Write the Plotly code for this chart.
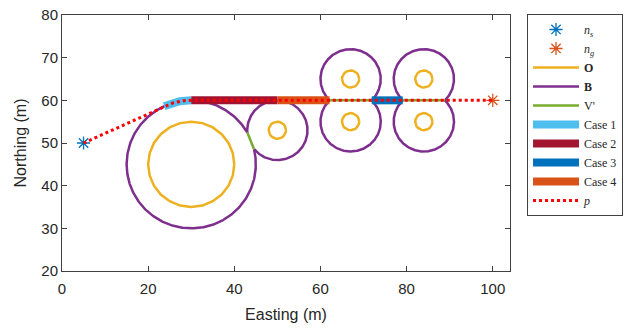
import numpy as np
import plotly.graph_objects as go

# ---------------- data ----------------
start_pt = [5, 50]
goal_pt = [100, 60]

# obstacles O (centre x, centre y, radius)
obs_x = [30, 50, 67, 67, 84, 84]
obs_y = [45, 53, 65, 55, 65, 55]
obs_r = [10, 2, 2, 2, 2, 2]
# buffer circles B (same centres)
buf_r = [15, 7, 7, 7, 7, 7]

# case segments along northing = 60
path_y = 60
case1_arc_deg = [114.8, 90]      # arc on buffer circle 0
case2_x = [30, 50]
case3_x = [71.9, 79.1]
case4_x = [50, 62.1]

x_ticks = [0, 20, 40, 60, 80, 100]
y_ticks = [20, 30, 40, 50, 60, 70, 80]

C_BLUE = "#0072BD"
C_ORANGE = "#D95319"
C_YELLOW = "#EDB120"
C_PURPLE = "#7E2F8E"
C_GREEN = "#77AC30"
C_CYAN = "#4DBEEE"
C_DRED = "#A2142F"

fig = go.Figure()

# n_s, n_g
fig.add_trace(go.Scatter(x=[start_pt[0]], y=[start_pt[1]], mode="markers",
                         marker=dict(symbol="asterisk-open", size=11, color=C_BLUE,
                                     line=dict(color=C_BLUE, width=1.3)),
                         name="<i>n</i><sub><i>s</i></sub>"))
fig.add_trace(go.Scatter(x=[goal_pt[0]], y=[goal_pt[1]], mode="markers",
                         marker=dict(symbol="asterisk-open", size=11, color=C_ORANGE,
                                     line=dict(color=C_ORANGE, width=1.3)),
                         name="<i>n</i><sub><i>g</i></sub>"))

# O circles (faceted polygons)
ox, oy = [], []
for cx, cy, r in zip(obs_x, obs_y, obs_r):
    t = np.linspace(0, 2 * np.pi, 25)
    ox += list(cx + r * np.cos(t)) + [None]
    oy += list(cy + r * np.sin(t)) + [None]
fig.add_trace(go.Scatter(x=ox, y=oy, mode="lines", line=dict(color=C_YELLOW, width=2.5),
                         name="<b>O</b>"))

# B outline (union of buffer circles)
bx, by = [], []
n = len(obs_x)
for i in range(n):
    t = np.linspace(0, 2 * np.pi, 721)
    px = obs_x[i] + buf_r[i] * np.cos(t)
    py = obs_y[i] + buf_r[i] * np.sin(t)
    inside = np.zeros_like(t, dtype=bool)
    for j in range(n):
        if j == i:
            continue
        inside |= np.hypot(px - obs_x[j], py - obs_y[j]) < buf_r[j] - 1e-9
    if inside.any():
        k = int(np.argmax(inside))
        px = np.roll(px[:-1], -k)
        py = np.roll(py[:-1], -k)
        inside = np.roll(inside[:-1], -k)
    for a, b, ins in zip(px, py, inside):
        if ins:
            if bx and bx[-1] is not None:
                bx.append(None); by.append(None)
        else:
            bx.append(a); by.append(b)
    bx.append(None); by.append(None)
fig.add_trace(go.Scatter(x=bx, y=by, mode="lines", line=dict(color=C_PURPLE, width=2.5),
                         name="<b>B</b>"))

# V' : chords between intersecting buffer circles
vx, vy = [], []
for i in range(n):
    for j in range(i + 1, n):
        dx, dy = obs_x[j] - obs_x[i], obs_y[j] - obs_y[i]
        d = np.hypot(dx, dy)
        r1, r2 = buf_r[i], buf_r[j]
        if d < r1 + r2 and d > abs(r1 - r2):
            a = (d * d + r1 * r1 - r2 * r2) / (2 * d)
            h = np.sqrt(r1 * r1 - a * a)
            mx, my = obs_x[i] + a * dx / d, obs_y[i] + a * dy / d
            vx += [mx - h * dy / d, mx + h * dy / d, None]
            vy += [my + h * dx / d, my - h * dx / d, None]
fig.add_trace(go.Scatter(x=vx, y=vy, mode="lines", line=dict(color=C_GREEN, width=2.5),
                         name="V'"))

# cases
ta = np.radians(np.linspace(case1_arc_deg[0], case1_arc_deg[1], 40))
fig.add_trace(go.Scatter(x=obs_x[0] + buf_r[0] * np.cos(ta), y=obs_y[0] + buf_r[0] * np.sin(ta),
                         mode="lines", line=dict(color=C_CYAN, width=8), name="Case 1"))
fig.add_trace(go.Scatter(x=case2_x, y=[path_y] * 2, mode="lines",
                         line=dict(color=C_DRED, width=8), name="Case 2"))
fig.add_trace(go.Scatter(x=case3_x, y=[path_y] * 2, mode="lines",
                         line=dict(color=C_BLUE, width=8), name="Case 3"))
fig.add_trace(go.Scatter(x=case4_x, y=[path_y] * 2, mode="lines",
                         line=dict(color=C_ORANGE, width=8), name="Case 4"))

# path p: tangent from start to circle 0, arc to top, straight to goal
cx0, cy0, r0 = obs_x[0], obs_y[0], buf_r[0]
pa = np.radians(np.linspace(case1_arc_deg[0], 90, 30))
px_path = [start_pt[0]] + list(cx0 + r0 * np.cos(pa)) + [goal_pt[0]]
py_path = [start_pt[1]] + list(cy0 + r0 * np.sin(pa)) + [goal_pt[1]]
fig.add_trace(go.Scatter(x=px_path, y=py_path, mode="lines",
                         line=dict(color="red", width=3, dash="dot"), name="<i>p</i>"))

axis_common = dict(showgrid=False, zeroline=False, showline=True, mirror="ticks",
                   linecolor="#404040", linewidth=1, ticks="inside", ticklen=5,
                   tickcolor="#404040", automargin=False,
                   tickfont=dict(family="Liberation Sans", size=15, color="#262626"))
fig.update_xaxes(range=[0, 104], tickvals=x_ticks, ticklabelstandoff=4,
                 title=dict(text="Easting (m)", standoff=12,
                            font=dict(family="Liberation Sans", size=16, color="#262626")),
                 **axis_common)
fig.update_yaxes(range=[20, 80], tickvals=y_ticks,
                 title=dict(text="Northing (m)", standoff=10,
                            font=dict(family="Liberation Sans", size=16, color="#262626")),
                 **axis_common)

fig.update_layout(
    width=638, height=331,
    margin=dict(l=62, r=128, t=15, b=60, autoexpand=False),
    plot_bgcolor="white", paper_bgcolor="white",
    showlegend=True,
    legend=dict(x=1.038, y=1.004, xanchor="left", yanchor="top",
                bordercolor="#404040", borderwidth=1, bgcolor="white",
                font=dict(family="Liberation Serif", size=12, color="#262626"),
                tracegroupgap=0, itemwidth=46, maxheight=320),
)

fig.write_html("out.html")
